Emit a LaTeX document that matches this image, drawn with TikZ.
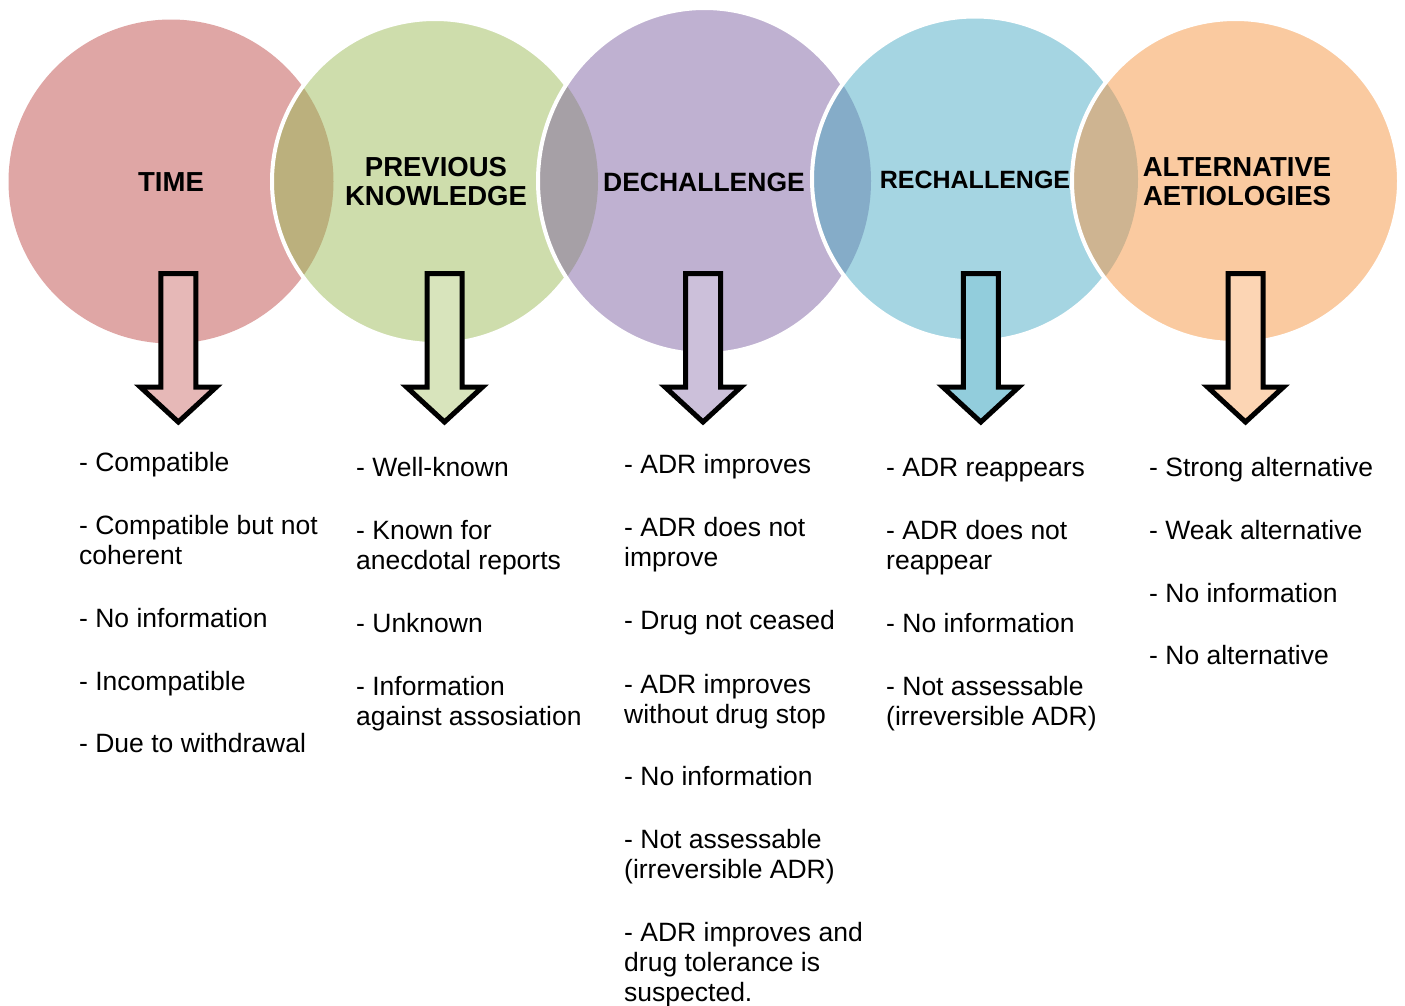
\documentclass[tikz,border=0pt]{standalone}
\usepackage{fontspec}
\setmainfont{Liberation Sans}
\definecolor{cA}{HTML}{DFA6A5}
\definecolor{cB}{HTML}{CEDDAC}
\definecolor{cC}{HTML}{BFB1D1}
\definecolor{cD}{HTML}{A5D5E2}
\definecolor{cE}{HTML}{FACAA0}
\definecolor{lAB}{HTML}{BBB07D}
\definecolor{lBC}{HTML}{A6A0A6}
\definecolor{lCD}{HTML}{85ACC8}
\definecolor{lDE}{HTML}{CEB491}
\definecolor{aA}{HTML}{E6B8B7}
\definecolor{aB}{HTML}{D8E4BC}
\definecolor{aC}{HTML}{CCC0DA}
\definecolor{aD}{HTML}{92CDDC}
\definecolor{aE}{HTML}{FCD5B4}
\begin{document}
\begin{tikzpicture}[x=1pt,y=-1pt,
  ring/.style={draw=white,line width=4pt},
  blockarrow/.style={draw=black,line width=5pt,line join=miter,miter limit=10},
  title/.style={font=\fontsize{27.5}{29}\selectfont\bfseries,align=center,inner sep=0pt,anchor=base},
  item/.style={font=\fontsize{26.5}{30}\selectfont,align=left,inner sep=0pt,anchor=base west},
  pics/darrow/.style={code={%
    \draw[blockarrow,fill=#1] (-17.5,273.5) -- (17.5,273.5) -- (17.5,387) -- (38,387)
      -- (0,422) -- (-38,387) -- (-17.5,387) -- cycle;}}]
\useasboundingbox (0,0) rectangle (1405,1005);
\fill[white] (0,0) rectangle (1405,1005);
% circles
\def\cA{(171,181.5) ellipse [x radius=162.5pt,y radius=162pt]}
\def\cB{(435,181.5) ellipse [x radius=163pt,y radius=162.5pt]}
\def\cC{(704.5,181) ellipse [x radius=166.5pt,y radius=173pt]}
\def\cD{(975,179) ellipse [x radius=163pt,y radius=162.5pt]}
\def\cE{(1235.5,181) ellipse [x radius=163.5pt,y radius=162pt]}
\fill[cA] \cA;
\fill[cB] \cB;
\begin{scope}\clip \cA; \fill[lAB] \cB; \end{scope}
\draw[ring] \cB;
\fill[cC] \cC;
\begin{scope}\clip \cB; \fill[lBC] \cC; \end{scope}
\draw[ring] \cC;
\fill[cD] \cD;
\begin{scope}\clip \cC; \fill[lCD] \cD; \end{scope}
\draw[ring] \cD;
\fill[cE] \cE;
\begin{scope}\clip \cD; \fill[lDE] \cE; \end{scope}
\draw[ring] \cE;
% titles (base anchor = last line)
\node[title] (tA) at (171,191) {TIME};
\node[title] (tB) at (436,205) {PREVIOUS\\KNOWLEDGE};
\node[title,font=\fontsize{26.5}{29}\selectfont\bfseries] (tC) at (704,191.5) {DECHALLENGE};
\node[title,font=\fontsize{25}{29}\selectfont\bfseries] (tD) at (975,188.5) {RECHALLENGE};
\node[title] (tE) at (1237,205) {ALTERNATIVE\\AETIOLOGIES};
% arrows
\pic at (178.3,0) {darrow=aA};
\pic at (444.5,0) {darrow=aB};
\pic at (703,0) {darrow=aC};
\pic at (980.8,0) {darrow=aD};
\pic at (1245.5,0) {darrow=aE};
% column 1
\node[item] (a1) at (79,471) {- Compatible};
\node[item] (a2) at (79,564) {- Compatible but not\\coherent};
\node[item] (a3) at (79,627) {- No information};
\node[item] (a4) at (79,690) {- Incompatible};
\node[item] (a5) at (79,752) {- Due to withdrawal};
% column 2
\node[item] (b1) at (356,476) {- Well-known};
\node[item] (b2) at (356,569) {- Known for\\anecdotal reports};
\node[item] (b3) at (356,632) {- Unknown};
\node[item] (b4) at (356,725) {- Information\\against assosiation};
% column 3
\node[item] (c1) at (624,473) {- ADR improves};
\node[item] (c2) at (624,566) {- ADR does not\\improve};
\node[item] (c3) at (624,629) {- Drug not ceased};
\node[item] (c4) at (624,723) {- ADR improves\\without drug stop};
\node[item] (c5) at (624,785) {- No information};
\node[item] (c6) at (624,878) {- Not assessable\\(irreversible ADR)};
\node[item] (c7) at (624,1001) {- ADR improves and\\drug tolerance is\\suspected.};
% column 4
\node[item] (d1) at (886,476) {- ADR reappears};
\node[item] (d2) at (886,569) {- ADR does not\\reappear};
\node[item] (d3) at (886,632) {- No information};
\node[item] (d4) at (886,725) {- Not assessable\\(irreversible ADR)};
% column 5
\node[item] (e1) at (1149,476) {- Strong alternative};
\node[item] (e2) at (1149,539) {- Weak alternative};
\node[item] (e3) at (1149,602) {- No information};
\node[item] (e4) at (1149,664) {- No alternative};
\end{tikzpicture}
\end{document}
